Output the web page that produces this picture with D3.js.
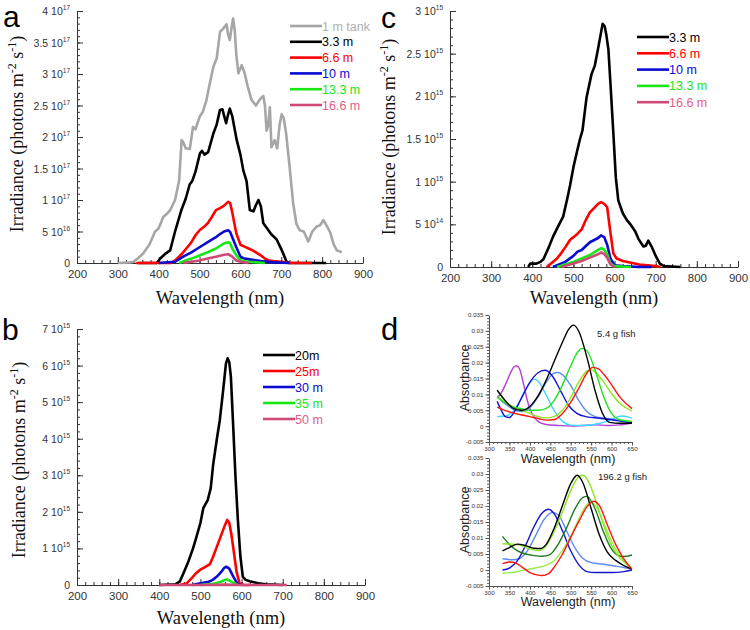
<!DOCTYPE html>
<html><head><meta charset="utf-8">
<script src="https://cdn.jsdelivr.net/npm/d3@7"></script>
<style>body{margin:0;background:#fff}svg{display:block}</style>
</head><body>
<svg id="chart" width="750" height="630"></svg>
<script>
// ---------------- DATA ----------------
// Panel a : irradiance, units of 1e17 photons m-2 s-1 ; [wavelength nm, value]
const aNames = ["1 m tank", "3.3 m", "6.6 m", "10 m", "13.3 m", "16.6 m"];
const aTank = [[300,0],[330,0.01],[338,0.02],[350,0.08],[362,0.15],[378,0.3],[391,0.5],[400,0.55],[411,0.73],[420,0.78],[428,0.84],[440,1.0],[450,1.31],[456,1.95],[460,1.92],[466,1.82],[476,1.81],[484,2.16],[490,2.12],[500,2.32],[508,2.4],[517,2.59],[525,2.85],[534,3.12],[542,3.25],[550,3.67],[558,3.72],[566,3.79],[570,3.62],[574,3.54],[578,3.72],[582,3.88],[586,3.7],[590,3.3],[595,3.01],[603,3.14],[610,3.02],[618,2.8],[627,2.59],[638,2.5],[648,2.6],[656,2.65],[660,2.5],[664,2.1],[668,2.18],[672,2.47],[676,1.84],[684,1.95],[690,1.82],[696,2.2],[701,2.36],[706,2.3],[712,2.05],[720,1.55],[729,0.95],[737,0.62],[745,0.52],[755,0.5],[766,0.34],[776,0.5],[787,0.58],[795,0.6],[803,0.68],[812,0.58],[820,0.48],[828,0.3],[836,0.2],[848,0.17]];
const a33 = [[350,0],[395,0],[405,0.08],[415,0.14],[428,0.2],[440,0.5],[450,0.72],[456,0.85],[466,1.02],[476,1.25],[482,1.3],[490,1.45],[501,1.74],[506,1.78],[512,1.72],[521,1.76],[534,2.06],[542,2.2],[550,2.43],[556,2.44],[560,2.34],[565,2.22],[570,2.36],[574,2.45],[580,2.33],[591,1.95],[600,1.72],[607,1.47],[615,1.3],[623,0.84],[632,0.82],[638,0.92],[644,1.0],[650,0.9],[656,0.63],[665,0.55],[675,0.46],[689,0.37],[700,0.22],[708,0.1],[713,0.02],[720,0],[810,0]];
const a66 = [[345,0],[430,0],[440,0.04],[450,0.1],[460,0.17],[470,0.25],[480,0.33],[490,0.44],[500,0.52],[510,0.57],[520,0.63],[530,0.73],[540,0.84],[550,0.87],[560,0.91],[570,0.97],[575,0.95],[580,0.8],[590,0.47],[600,0.29],[610,0.26],[620,0.23],[630,0.2],[640,0.16],[650,0.12],[660,0.07],[670,0.04],[680,0.03],[700,0.02],[720,0],[775,0]];
const a10 = [[400,0],[440,0.02],[460,0.1],[480,0.17],[500,0.25],[520,0.33],[540,0.41],[550,0.46],[560,0.5],[570,0.52],[575,0.49],[580,0.41],[590,0.25],[600,0.1],[610,0.07],[630,0.05],[650,0.03],[680,0.01],[720,0]];
const a133 = [[450,0],[480,0.07],[500,0.12],[520,0.17],[540,0.23],[560,0.31],[570,0.33],[575,0.31],[580,0.23],[590,0.12],[600,0.04],[620,0.02],[660,0]];
const a166 = [[460,0],[480,0.02],[500,0.04],[520,0.07],[540,0.1],[560,0.13],[570,0.14],[580,0.1],[590,0.04],[600,0.02],[620,0]];
const aYTicks = [0,0.5,1,1.5,2,2.5,3,3.5,4];
const aYTickLabels = [["0",""],["5","16"],["1","17"],["1.5","17"],["2","17"],["2.5","17"],["3","17"],["3.5","17"],["4","17"]];

// Panel b : units of 1e15
const bNames = ["20m", "25m", "30 m", "35 m", "50 m"];
const b20 = [[400,0],[440,0.02],[450,0.1],[458,0.3],[470,0.62],[482,1.0],[490,1.3],[500,1.7],[507,2.1],[518,2.33],[525,2.65],[531,3.3],[540,4.0],[547,4.5],[555,5.3],[562,6.05],[566,6.2],[570,6.1],[574,5.7],[579,4.5],[585,3.0],[591,1.78],[597,0.8],[603,0.22],[610,0.14],[620,0.1],[640,0.05],[660,0.02],[700,0]];
const b25 = [[450,0],[466,0.04],[480,0.2],[490,0.33],[500,0.42],[510,0.48],[523,0.57],[530,0.75],[540,1.05],[550,1.35],[560,1.65],[565,1.78],[570,1.7],[575,1.4],[580,1.0],[588,0.35],[595,0.05],[605,0],[620,0]];
const b30 = [[480,0],[500,0.05],[520,0.09],[530,0.14],[540,0.23],[550,0.35],[558,0.47],[563,0.5],[570,0.45],[580,0.23],[590,0.03],[600,0]];
const b35 = [[500,0],[530,0.03],[550,0.09],[560,0.14],[565,0.15],[575,0.09],[590,0]];
const b50 = [[400,0],[500,0],[560,0.01],[600,0],[710,0]];
const bYTicks = [0,1,2,3,4,5,6,7];
const bYTickLabels = [["0",""],["1","15"],["2","15"],["3","15"],["4","15"],["5","15"],["6","15"],["7","15"]];

// Panel c : units of 1e15
const cNames = ["3.3 m", "6.6 m", "10 m", "13.3 m", "16.6 m"];
const c33 = [[390,0],[395,0.04],[410,0.04],[420,0.06],[427,0.09],[440,0.23],[450,0.35],[460,0.45],[475,0.59],[485,0.8],[492,0.96],[500,1.17],[510,1.38],[516,1.5],[522,1.6],[532,1.99],[544,2.26],[552,2.36],[560,2.56],[566,2.72],[571,2.85],[576,2.82],[580,2.72],[585,2.55],[590,2.15],[597,1.57],[603,1.05],[609,0.78],[620,0.63],[630,0.55],[640,0.49],[650,0.42],[658,0.33],[670,0.24],[676,0.25],[682,0.31],[690,0.24],[700,0.13],[710,0.04],[720,0.01],[760,0]];
const c66 = [[435,0],[450,0.06],[460,0.1],[470,0.16],[480,0.23],[492,0.32],[500,0.35],[510,0.39],[520,0.44],[530,0.55],[540,0.64],[550,0.69],[560,0.74],[567,0.76],[575,0.74],[582,0.7],[590,0.4],[597,0.16],[605,0.1],[620,0.07],[640,0.05],[660,0.03],[680,0.02],[700,0.01],[712,0]];
const c10 = [[450,0],[480,0.06],[500,0.13],[510,0.18],[520,0.2],[540,0.29],[560,0.34],[567,0.37],[575,0.35],[582,0.26],[590,0.1],[600,0.02],[620,0.01],[660,0],[690,0]];
const c133 = [[460,0],[480,0.03],[500,0.06],[520,0.1],[540,0.14],[560,0.2],[568,0.22],[575,0.2],[582,0.15],[590,0.04],[600,0.01],[640,0]];
const c166 = [[470,0],[500,0.04],[520,0.07],[540,0.11],[560,0.15],[568,0.17],[575,0.15],[582,0.11],[590,0.03],[600,0]];
const cYTicks = [0,0.5,1,1.5,2,2.5,3];
const cYTickLabels = [["0",""],["5","14"],["1","15"],["1.5","15"],["2","15"],["2.5","15"],["3","15"]];

const irrWaveTicks = [200,300,400,500,600,700,800,900];

// Panel d : absorbance spectra
const dTopLabel = "5.4 g fish";
const dTopPurple = [[320,0.009],[330,0.0105],[340,0.013],[350,0.016],[360,0.0185],[368,0.019],[375,0.018],[385,0.013],[395,0.0075],[405,0.004],[420,0.0015],[440,0.0005],[470,0.0002],[500,0],[530,0.0002],[560,0.0004],[590,0.0002],[620,0.0004],[650,0.001]];
const dTopCyan = [[320,0.003],[340,0.0032],[360,0.0048],[380,0.009],[395,0.0128],[410,0.0148],[420,0.0142],[440,0.0098],[460,0.0048],[480,0.0015],[500,0.0003],[530,0.0002],[560,0.0006],[590,0.0016],[610,0.0027],[625,0.0032],[640,0.0029],[650,0.0025]];
const dTopBlue = [[320,0.0078],[330,0.005],[340,0.003],[350,0.0027],[362,0.0045],[380,0.009],[400,0.0138],[420,0.0168],[437,0.0176],[455,0.0158],[475,0.0112],[495,0.0065],[515,0.004],[540,0.0029],[570,0.0025],[600,0.002],[625,0.0015],[650,0.001]];
const dTopCorn = [[320,0.0092],[340,0.007],[360,0.0052],[380,0.0046],[400,0.0058],[420,0.0092],[440,0.0138],[458,0.0166],[468,0.0169],[480,0.0162],[500,0.0128],[520,0.008],[540,0.0045],[560,0.003],[590,0.0024],[620,0.0018],[650,0.001]];
const dTopBlack = [[320,0.0113],[340,0.008],[360,0.0056],[380,0.005],[400,0.0062],[420,0.0095],[440,0.0145],[460,0.0205],[480,0.0265],[495,0.0305],[507,0.0318],[520,0.0298],[540,0.0215],[560,0.011],[578,0.004],[595,0.0012],[620,0.0009],[650,0.001]];
const dTopGreen = [[320,0.0095],[340,0.0072],[360,0.006],[380,0.0055],[400,0.005],[420,0.005],[440,0.0056],[460,0.0082],[480,0.013],[500,0.019],[518,0.0235],[528,0.0245],[540,0.0237],[560,0.0175],[580,0.0095],[600,0.004],[620,0.002],[650,0.0015]];
const dTopLime = [[320,0.009],[340,0.0075],[360,0.006],[380,0.005],[400,0.004],[420,0.003],[440,0.0026],[460,0.0031],[480,0.005],[500,0.009],[520,0.014],[540,0.0174],[550,0.0178],[560,0.017],[580,0.014],[600,0.0102],[620,0.0072],[650,0.0048]];
const dTopRed = [[320,0.006],[340,0.0049],[360,0.0041],[380,0.0035],[400,0.003],[420,0.0024],[440,0.0019],[460,0.0021],[480,0.004],[500,0.0075],[520,0.012],[540,0.0168],[554,0.0185],[568,0.018],[580,0.0165],[600,0.013],[620,0.0092],[650,0.0055]];

const dBotLabel = "196.2 g fish";
const dBotBlue = [[333,0],[350,0.0006],[370,0.003],[390,0.0078],[410,0.0135],[430,0.0178],[446,0.019],[460,0.0175],[480,0.0122],[500,0.006],[520,0.0016],[540,-0.0005],[560,-0.0008],[600,-0.0008],[630,-0.0005],[650,0]];
const dBotCorn = [[333,0.0035],[355,0.0032],[375,0.0036],[395,0.0062],[415,0.011],[435,0.0158],[455,0.018],[470,0.0172],[490,0.0122],[510,0.007],[530,0.0036],[550,0.0023],[580,0.0018],[610,0.0012],[630,0.0008],[650,0.0003]];
const dBotBlack = [[333,0.006],[350,0.007],[370,0.0081],[390,0.0076],[410,0.0068],[425,0.0067],[440,0.008],[460,0.0132],[480,0.0202],[500,0.027],[516,0.0296],[530,0.0272],[550,0.0192],[570,0.011],[590,0.0055],[610,0.003],[630,0.0014],[650,0.0003]];
const dBotLime = [[333,0.0082],[360,0.0081],[380,0.0076],[400,0.0066],[420,0.0061],[440,0.0076],[460,0.0122],[480,0.0182],[500,0.0248],[520,0.0292],[530,0.0296],[542,0.028],[560,0.0222],[580,0.0142],[600,0.0077],[620,0.0038],[640,0.0015],[650,0.0008]];
const dBotDkGreen = [[333,0.0105],[350,0.008],[370,0.006],[390,0.005],[410,0.0045],[430,0.0043],[450,0.0049],[470,0.0082],[490,0.0132],[510,0.019],[530,0.0227],[540,0.023],[560,0.019],[580,0.012],[600,0.0065],[615,0.0046],[630,0.0042],[650,0.0047]];
const dBotLime2 = [[333,-0.001],[360,-0.0007],[380,-0.0002],[400,0.0003],[420,0.0008],[440,0.0015],[460,0.003],[480,0.0062],[500,0.0105],[520,0.016],[540,0.0205],[550,0.0212],[560,0.0202],[580,0.015],[600,0.009],[620,0.0045],[640,0.0015],[650,0.0005]];
const dBotRed = [[333,0.002],[350,0.0025],[365,0.0022],[380,0.001],[400,-0.0008],[420,-0.0016],[430,-0.0017],[445,-0.0012],[460,0.001],[480,0.005],[500,0.0102],[520,0.0152],[540,0.0198],[556,0.0215],[570,0.0202],[590,0.014],[610,0.008],[630,0.0035],[650,0.0002]];

const dWaveTicks = [300,350,400,450,500,550,600,650];
const dYTicks = [-0.005,0,0.005,0.01,0.015,0.02,0.025,0.03,0.035];
const dYTickLabels = ["-0.005","0","0.005","0.01","0.015","0.02","0.025","0.03","0.035"];

// ---------------- DRAWING ----------------
const svg = d3.select("#chart");
const SANS = "'Liberation Sans', Arial, sans-serif";
const SERIF = "'Liberation Serif', 'Times New Roman', serif";
const AX = "#333";

const cBlack = "#000000", cRed = "#ff0000", cBlue = "#0a0ad2", cGreen = "#19e619", cPink = "#d04a78", cGray = "#a6a6a6";

function irrPanel(o) {
  const x = d3.scaleLinear().domain([200, 900]).range([o.left, o.right]);
  const y = d3.scaleLinear().domain([0, o.yMax]).range([o.bottom, o.top]);
  const g = svg.append("g");
  // minor ticks
  g.append("g").attr("transform", `translate(0,${o.bottom})`)
    .call(d3.axisBottom(x).tickValues(d3.range(200, 901, 20)).tickSize(-3).tickFormat(""))
    .call(s => s.select(".domain").remove())
    .selectAll("line").attr("stroke", AX);
  g.append("g").attr("transform", `translate(${o.left},0)`)
    .call(d3.axisLeft(y).tickValues(d3.range(0, o.yMax + 1e-9, o.yMinor)).tickSize(-3).tickFormat(""))
    .call(s => s.select(".domain").remove())
    .selectAll("line").attr("stroke", AX);
  // major
  const xa = g.append("g").attr("transform", `translate(0,${o.bottom})`)
    .call(d3.axisBottom(x).tickValues(irrWaveTicks).tickSize(-6).tickPadding(7).tickSizeOuter(0));
  xa.select(".domain").attr("stroke", AX);
  xa.selectAll("line").attr("stroke", AX);
  xa.selectAll("text").attr("font-family", SANS).attr("font-size", 11.5).attr("fill", "#333");
  const ya = g.append("g").attr("transform", `translate(${o.left},0)`)
    .call(d3.axisLeft(y).tickValues(o.yTicks).tickSize(-6).tickFormat("").tickSizeOuter(0));
  ya.select(".domain").attr("stroke", AX);
  ya.selectAll("line").attr("stroke", AX);
  // y tick labels with superscripts
  o.yTicks.forEach((v, i) => {
    const [m, e] = o.yLabels[i];
    const t = g.append("text").attr("x", o.left - 7).attr("y", y(v) + 4)
      .attr("text-anchor", "end").attr("font-family", SANS).attr("font-size", 10.5).attr("fill", "#333");
    if (e === "") { t.text(m); }
    else {
      t.append("tspan").text(m + " 10");
      t.append("tspan").attr("dy", -5).attr("font-size", 6.5).text(e);
    }
  });
  // lines (first series drawn first, last on top)
  const line = d3.line().x(d => x(d[0])).y(d => y(d[1]));
  o.series.forEach(s => {
    g.append("path").datum(s.data).attr("d", line).attr("fill", "none")
      .attr("stroke", s.color).attr("stroke-width", 2.6).attr("stroke-linejoin", "round");
  });
  // legend
  o.series.forEach((s, i) => {
    const ly = o.legY + i * o.legDy;
    g.append("line").attr("x1", o.legX).attr("x2", o.legX + 32).attr("y1", ly).attr("y2", ly)
      .attr("stroke", s.color).attr("stroke-width", 2.6);
    g.append("text").attr("x", o.legX + 32).attr("y", ly + 4.5).attr("font-family", SANS)
      .attr("font-size", 12.5).attr("fill", s.tcolor || s.color).text(s.name);
  });
  // axis titles
  g.append("text").attr("x", (o.left + o.right) / 2 + o.xtDx).attr("y", o.xtY).attr("text-anchor", "middle")
    .attr("font-family", SERIF).attr("font-size", 18.5).attr("fill", "#111").text("Wavelength (nm)");
  const yt = g.append("text").attr("transform", `translate(${o.ytX},${o.ytY}) rotate(-90)`)
    .attr("text-anchor", "middle").attr("font-family", SERIF).attr("font-size", 18).attr("fill", "#111");
  yt.append("tspan").text("Irradiance (photons m");
  yt.append("tspan").attr("dy", -7).attr("font-size", 12).text("-2");
  yt.append("tspan").attr("dy", 7).text(" s");
  yt.append("tspan").attr("dy", -7).attr("font-size", 12).text("-1");
  yt.append("tspan").attr("dy", 7).text(")");
  // panel letter
  g.append("text").attr("x", o.letX).attr("y", o.letY).attr("font-family", SANS)
    .attr("font-size", 30).attr("fill", "#000").text(o.letter);
}

irrPanel({ left: 77, right: 363, top: 11, bottom: 263, yMax: 4, yMinor: 0.1,
  yTicks: aYTicks, yLabels: aYTickLabels,
  series: [
    { data: aTank, color: cGray, name: aNames[0], tcolor: "#b0b0b0" },
    { data: a33, color: cBlack, name: aNames[1] },
    { data: a66, color: cRed, name: aNames[2] },
    { data: a10, color: cBlue, name: aNames[3] },
    { data: a133, color: cGreen, name: aNames[4] },
    { data: a166, color: cPink, name: aNames[5], tcolor: "#e0608a" }],
  legX: 290, legY: 26, legDy: 15.8, xtY: 304, xtDx: 0, ytX: 23, ytY: 134, letter: "a", letX: 3, letY: 27 });

irrPanel({ left: 450, right: 738, top: 11, bottom: 267, yMax: 3, yMinor: 0.1,
  yTicks: cYTicks, yLabels: cYTickLabels,
  series: [
    { data: c33, color: cBlack, name: cNames[0] },
    { data: c66, color: cRed, name: cNames[1] },
    { data: c10, color: cBlue, name: cNames[2] },
    { data: c133, color: cGreen, name: cNames[3] },
    { data: c166, color: cPink, name: cNames[4], tcolor: "#e0608a" }],
  legX: 637, legY: 37, legDy: 16.3, xtY: 304, xtDx: 0, ytX: 395, ytY: 137, letter: "c", letX: 381, letY: 28 });

irrPanel({ left: 77, right: 365, top: 329, bottom: 585, yMax: 7, yMinor: 0.2,
  yTicks: bYTicks, yLabels: bYTickLabels,
  series: [
    { data: b20, color: cBlack, name: bNames[0] },
    { data: b25, color: cRed, name: bNames[1] },
    { data: b30, color: cBlue, name: bNames[2] },
    { data: b35, color: cGreen, name: bNames[3] },
    { data: b50, color: cPink, name: bNames[4], tcolor: "#e0608a" }],
  legX: 263, legY: 355, legDy: 16, xtY: 624, xtDx: 0, ytX: 25, ytY: 460, letter: "b", letX: 2, letY: 340 });

// panel d
const dPurple = "#b23fd8", dCyan = "#3fd6ff", dBlue = "#1515cc", dCorn = "#5e8cf5", dGreen = "#22e022", dLime = "#8ee620", dRed = "#ff1414", dDk = "#1f7a1f", dLime2 = "#96ec4a";

function absPanel(o) {
  const x = d3.scaleLinear().domain([300, 650]).range([489, 632]);
  const y = d3.scaleLinear().domain([-0.005, 0.035]).range([o.bottom, o.top]);
  const g = svg.append("g");
  g.append("g").attr("transform", `translate(0,${o.bottom})`)
    .call(d3.axisBottom(x).tickValues(d3.range(300, 651, 10)).tickSize(2).tickFormat(""))
    .call(s => s.select(".domain").remove()).selectAll("line").attr("stroke", "#555");
  g.append("g").attr("transform", `translate(489,0)`)
    .call(d3.axisLeft(y).tickValues(d3.range(-0.005, 0.0351, 0.001)).tickSize(2).tickFormat(""))
    .call(s => s.select(".domain").remove()).selectAll("line").attr("stroke", "#555");
  const xa = g.append("g").attr("transform", `translate(0,${o.bottom})`)
    .call(d3.axisBottom(x).tickValues(dWaveTicks).tickSize(3.5).tickPadding(1.5).tickSizeOuter(0));
  xa.select(".domain").attr("stroke", "#555");
  xa.selectAll("line").attr("stroke", "#555");
  xa.selectAll("text").attr("font-family", SANS).attr("font-size", 6.2).attr("fill", "#333");
  const ya = g.append("g").attr("transform", `translate(489,0)`)
    .call(d3.axisLeft(y).tickValues(dYTicks).tickSize(3.5).tickPadding(2).tickSizeOuter(0)
      .tickFormat((d, i) => dYTickLabels[i]));
  ya.select(".domain").attr("stroke", "#555");
  ya.selectAll("line").attr("stroke", "#555");
  ya.selectAll("text").attr("font-family", SANS).attr("font-size", 6.2).attr("fill", "#333");
  const line = d3.line().x(d => x(d[0])).y(d => y(d[1])).curve(d3.curveMonotoneX);
  o.series.forEach(s => {
    g.append("path").datum(s.data).attr("d", line).attr("fill", "none")
      .attr("stroke", s.color).attr("stroke-width", 1.4);
  });
  g.append("text").attr("x", o.labX).attr("y", o.labY).attr("font-family", SANS)
    .attr("font-size", 9.5).attr("fill", "#222").text(o.label);
  g.append("text").attr("x", 568).attr("y", o.xtY).attr("text-anchor", "middle").attr("font-family", SANS)
    .attr("font-size", 12.5).attr("fill", "#222").text("Wavelength (nm)");
  g.append("text").attr("transform", `translate(469,${o.ytY}) rotate(-90)`).attr("text-anchor", "middle")
    .attr("font-family", SANS).attr("font-size", 12.5).attr("fill", "#222").text("Absorbance");
}

absPanel({ top: 315, bottom: 442, label: dTopLabel, labX: 597, labY: 337, xtY: 463, ytY: 378,
  series: [
    { data: dTopPurple, color: dPurple }, { data: dTopCyan, color: dCyan },
    { data: dTopCorn, color: dCorn }, { data: dTopBlue, color: dBlue },
    { data: dTopLime, color: dLime }, { data: dTopGreen, color: dGreen },
    { data: dTopBlack, color: "#000" }, { data: dTopRed, color: dRed }] });

absPanel({ top: 458, bottom: 586, label: dBotLabel, labX: 598, labY: 480, xtY: 606, ytY: 520,
  series: [
    { data: dBotCorn, color: dCorn }, { data: dBotBlue, color: dBlue },
    { data: dBotLime2, color: dLime2 }, { data: dBotDkGreen, color: dDk },
    { data: dBotLime, color: dLime }, { data: dBotBlack, color: "#000" },
    { data: dBotRed, color: dRed }] });

svg.append("text").attr("x", 381).attr("y", 340).attr("font-family", SANS)
  .attr("font-size", 31).attr("fill", "#000").text("d");
</script>
</body></html>
